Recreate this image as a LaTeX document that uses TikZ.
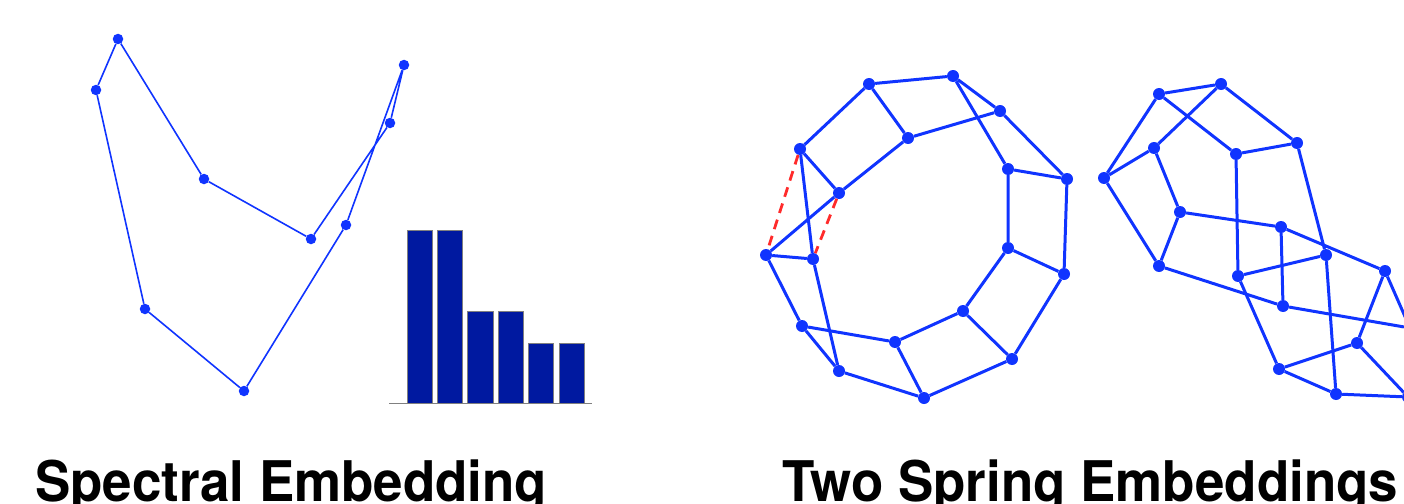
\documentclass[tikz,border=0pt]{standalone}
\usepackage{fontspec}
\setsansfont{TeX Gyre Heros}
\usepackage{tikz}
\definecolor{netblue}{HTML}{1034FF}
\definecolor{barblue}{HTML}{0019A0}
\definecolor{cutred}{HTML}{FF2B2B}
\newcommand{\titletext}[1]{\scalebox{0.945}[1]{\sffamily\bfseries\fontsize{56}{60}\selectfont #1}}

\begin{document}
\begin{tikzpicture}[x=1pt,y=-1pt,
    sdot/.style={circle,fill=netblue,inner sep=0pt,minimum size=10.5pt},
    dot/.style={circle,fill=netblue,inner sep=0pt,minimum size=12pt},
    sedge/.style={draw=netblue,line width=1.6pt},
    edge/.style={draw=netblue,line width=3pt},
    cut/.style={draw=cutred,line width=2.8pt,dash pattern=on 10pt off 7pt},
    bar/.style={fill=barblue,draw=gray,line width=0.8pt}]
  \useasboundingbox (0,0) rectangle (1404,503);
  \clip (0,0) rectangle (1404,503);

  % spectral embedding: a 9-cycle
  \node[sdot] (s1) at (96,90) {};
  \node[sdot] (s2) at (118,39) {};
  \node[sdot] (s3) at (204,179) {};
  \node[sdot] (s4) at (311,239) {};
  \node[sdot] (s5) at (390,123) {};
  \node[sdot] (s6) at (404,65) {};
  \node[sdot] (s7) at (346,225) {};
  \node[sdot] (s8) at (244,391) {};
  \node[sdot] (s9) at (145,309) {};
  \path[sedge] (s1) -- (s2) -- (s3) -- (s4) -- (s5) -- (s6) -- (s7) -- (s8) -- (s9) -- (s1);

  % eigenvalue bars
  \draw[bar] (407.3,403.3) rectangle (432.3,230.7);
  \draw[bar] (437.7,403.3) rectangle (462.3,230.7);
  \draw[bar] (467.7,403.3) rectangle (493,311.3);
  \draw[bar] (498.3,403.3) rectangle (523.3,311.3);
  \draw[bar] (528.7,403.3) rectangle (553.7,343.3);
  \draw[bar] (559.3,403.3) rectangle (584,343.3);
  \draw[gray,line width=1pt] (389,403.6) -- (592,403.6);

  % first spring embedding
  \node[dot] (p1) at (869,84) {};
  \node[dot] (p2) at (953,76) {};
  \node[dot] (p3) at (1000,111) {};
  \node[dot] (p4) at (908,138) {};
  \node[dot] (p5) at (800,149) {};
  \node[dot] (p6) at (839,193) {};
  \node[dot] (p7) at (1008,169) {};
  \node[dot] (p8) at (1067,179) {};
  \node[dot] (p9) at (766,255) {};
  \node[dot] (p10) at (813,259) {};
  \node[dot] (p11) at (1008,248) {};
  \node[dot] (p12) at (1064,274) {};
  \node[dot] (p13) at (963,311) {};
  \node[dot] (p14) at (802,326) {};
  \node[dot] (p15) at (895,342) {};
  \node[dot] (p16) at (1012,359) {};
  \node[dot] (p17) at (839,371) {};
  \node[dot] (p18) at (924,398) {};
  % dashed pair
  \path[cut] (p5) -- (p9) (p6) -- (p10);
  % outer and inner rings
  \path[edge] (p1) -- (p2) -- (p3) -- (p8) -- (p12) -- (p16) -- (p18) -- (p17) -- (p14) -- (p9) -- (p6) -- (p5) -- (p1);
  \path[edge] (p4) -- (p6) (p4) -- (p1) (p4) -- (p3);
  \path[edge] (p2) -- (p7) -- (p11) -- (p13) -- (p15) -- (p14);
  \path[edge] (p7) -- (p8) (p11) -- (p12) (p13) -- (p16) (p15) -- (p18);
  \path[edge] (p5) -- (p10) -- (p17) (p9) -- (p10);

  % second spring embedding
  \node[dot] (q1) at (1159,94) {};
  \node[dot] (q2) at (1221,84) {};
  \node[dot] (q3) at (1154,148) {};
  \node[dot] (q4) at (1104,178) {};
  \node[dot] (q5) at (1236,154) {};
  \node[dot] (q6) at (1297,143) {};
  \node[dot] (q7) at (1180,212) {};
  \node[dot] (q8) at (1281,227) {};
  \node[dot] (q9) at (1159,266) {};
  \node[dot] (q10) at (1326,255) {};
  \node[dot] (q11) at (1238,276) {};
  \node[dot] (q12) at (1385,271) {};
  \node[dot] (q13) at (1283,306) {};
  \node[dot] (q14) at (1357,343) {};
  \node[dot] (q15) at (1279,369) {};
  \node[dot] (q16) at (1336,394) {};
  \node[dot] (q17) at (1410,328) {};
  \node[dot] (q18) at (1408,397) {};
  \path[edge] (q4) -- (q1) -- (q2) -- (q6) -- (q10) -- (q16) -- (q18) -- (q17) -- (q12) -- (q8) -- (q7) -- (q9) -- (q4) -- (q3) -- (q2);
  \path[edge] (q1) -- (q5) -- (q6) (q3) -- (q7) (q5) -- (q11) -- (q10);
  \path[edge] (q11) -- (q15) -- (q16) (q15) -- (q14) -- (q12) (q14) -- (q18);
  \path[edge] (q8) -- (q13) -- (q17) (q9) -- (q13);

  % titles
  \node[anchor=base west,inner sep=0pt] (spec) at (35,501) {\titletext{Spectral Embedding}};
  \node[anchor=base west,inner sep=0pt] (spring) at (782,501) {\titletext{Two Spring Embeddings}};
\end{tikzpicture}
\end{document}
